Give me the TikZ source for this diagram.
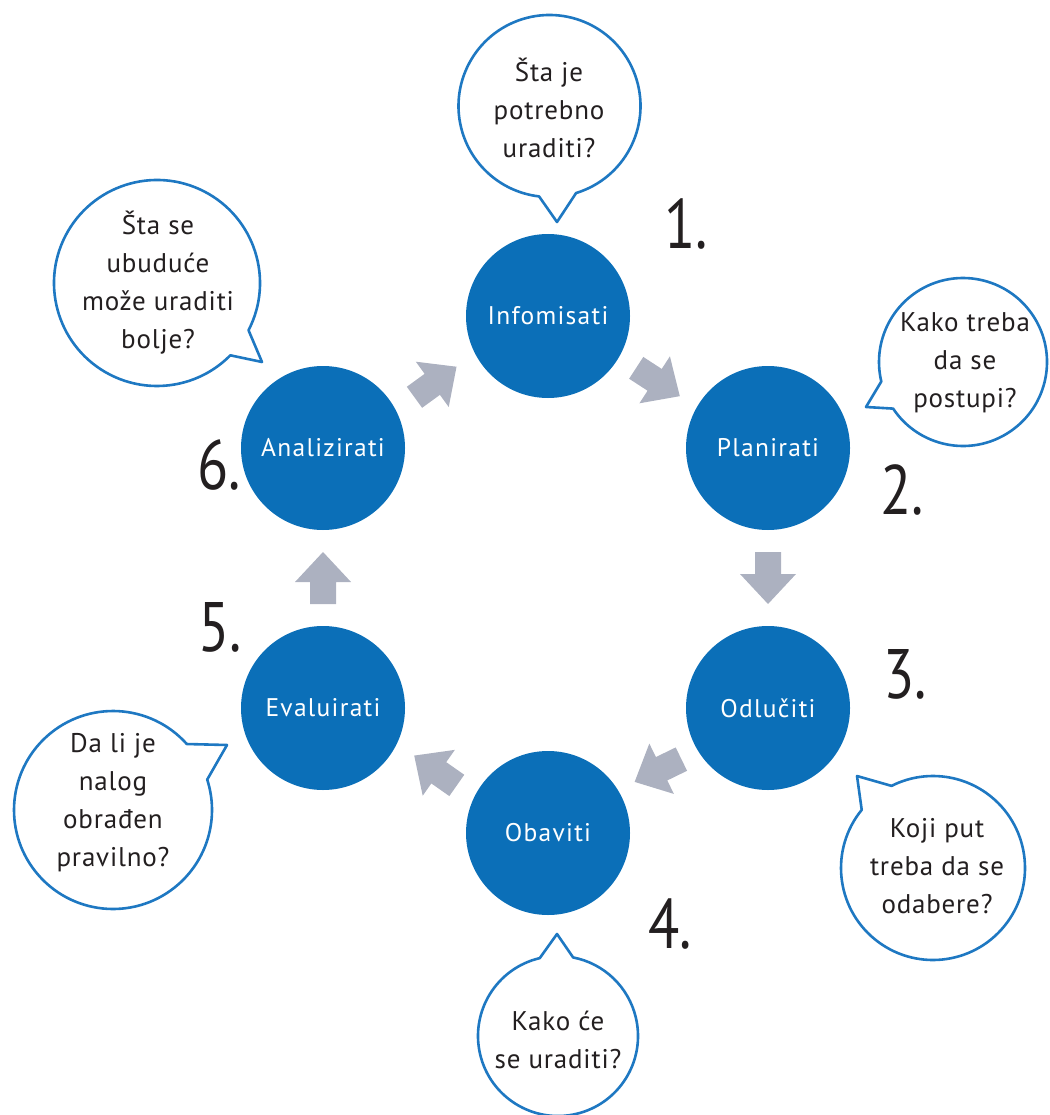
\documentclass[tikz,border=0pt]{standalone}
\usepackage{fontspec}
\setmainfont{PT Sans}
\newfontfamily\labelfont[LetterSpace=5]{PT Sans}
\newfontfamily\bubblefont[LetterSpace=3]{PT Sans}
\newfontfamily\numfont{PT Sans}
\usetikzlibrary{calc}

\definecolor{stageblue}{HTML}{0B6FB8}
\definecolor{bubbleblue}{HTML}{1E78C2}
\definecolor{arrowgray}{HTML}{ACB1C0}
\definecolor{textdark}{HTML}{231F20}

% condensed step numbers
\newcommand{\stepdigit}[1]{\scalebox{0.82}[1]{#1}}

\tikzset{
  stage/.style={circle, fill=stageblue, minimum size=164pt, inner sep=0pt,
    text=white, font=\labelfont\fontsize{25.5}{28}\selectfont},
  bubble/.style={draw=bubbleblue, fill=white, line width=2.6pt, line join=round},
  bubbletext/.style={align=center, text=textdark, inner sep=0pt,
    font=\bubblefont\fontsize{27}{38}\selectfont},
  stepnum/.style={text=textdark, inner sep=0pt,
    font=\numfont\fontsize{70}{70}\selectfont},
  pics/flowarrow/.style={code={
    \fill[arrowgray] (-26,-13) -- (-4,-13) -- (-4,-28) -- (26,0)
      -- (-4,28) -- (-4,13) -- (-26,13) -- cycle;}}
}

\begin{document}
\begin{tikzpicture}[x=1pt, y=1pt]
\useasboundingbox (0,0) rectangle (1049,-1115);

% the six stages of the cycle
\node[stage] (c1) at (548,-316) {Infomisati};
\node[stage] (c2) at (768,-448) {Planirati};
\node[stage] (c3) at (768,-708) {Odlučiti};
\node[stage] (c4) at (548,-833) {Obaviti};
\node[stage] (c5) at (323,-708) {Evaluirati};
\node[stage] (c6) at (323,-448) {Analizirati};

% block arrows between consecutive stages
\path ($(c1)!0.5!(c2)$) pic[rotate=-33] {flowarrow};
\path ($(c2)!0.5!(c3)$) pic[rotate=-90] {flowarrow};
\path ($(c3)!0.5!(c4)$) pic[rotate=206] {flowarrow};
\path ($(c4)!0.5!(c5)$) pic[rotate=145] {flowarrow};
\path ($(c5)!0.5!(c6)$) pic[rotate=90] {flowarrow};
\path ($(c6)!0.5!(c1)$) pic[rotate=36] {flowarrow};

% step numbers
\node[stepnum] (n1) at (686,-224) {\stepdigit{1.}};
\node[stepnum] (n2) at (902,-490) {\stepdigit{2.}};
\node[stepnum] (n3) at (905,-674) {\stepdigit{3.}};
\node[stepnum] (n4) at (670,-924) {\stepdigit{4.}};
\node[stepnum] (n5) at (220,-627) {\stepdigit{5.}};
\node[stepnum] (n6) at (219,-465) {\stepdigit{6.}};

% speech bubbles: circle arc plus a pointed tail
\coordinate (b1c) at (549.5,-106); \coordinate (b1t) at (557,-222);
\draw[bubble] ([shift={(-73:91)}]b1c) arc[start angle=-73, end angle=263.4, radius=91] -- (b1t) -- cycle;
\node[bubbletext] (q1) at (549,-108) {Šta je\\potrebno\\uraditi?};

\coordinate (b2c) at (963,-362); \coordinate (b2t) at (866,-407);
\draw[bubble] ([shift={(213.7:84)}]b2c) arc[start angle=213.7, end angle=553.4, radius=84] -- (b2t) -- cycle;
\node[bubbletext] (q2) at (965,-363) {Kako treba\\da se\\postupi?};

\coordinate (b3c) at (933,-868); \coordinate (b3t) at (857,-776);
\draw[bubble] ([shift={(140.8:92)}]b3c) arc[start angle=140.8, end angle=476.8, radius=92] -- (b3t) -- cycle;
\node[bubbletext] (q3) at (937,-866) {Koji put\\treba da se\\odabere?};

\coordinate (b4c) at (558,-1036); \coordinate (b4t) at (557,-934);
\draw[bubble] ([shift={(103.2:80)}]b4c) arc[start angle=103.2, end angle=439.1, radius=80] -- (b4t) -- cycle;
\node[bubbletext] (q4) at (558,-1040) {Kako će\\se uraditi?};

\coordinate (b5c) at (113,-810); \coordinate (b5t) at (227,-745);
\draw[bubble] ([shift={(41.8:99)}]b5c) arc[start angle=41.8, end angle=377.9, radius=99] -- (b5t) -- cycle;
\node[bubbletext] (q5) at (113,-803) {Da li je\\nalog\\obrađen\\pravilno?};

\coordinate (b6c) at (157,-283); \coordinate (b6t) at (262,-362);
\draw[bubble] ([shift={(-27.3:103)}]b6c) arc[start angle=-27.3, end angle=315.4, radius=103] -- (b6t) -- cycle;
\node[bubbletext] (q6) at (158,-283) {Šta se\\ubuduće\\može uraditi\\bolje?};
\end{tikzpicture}
\end{document}
